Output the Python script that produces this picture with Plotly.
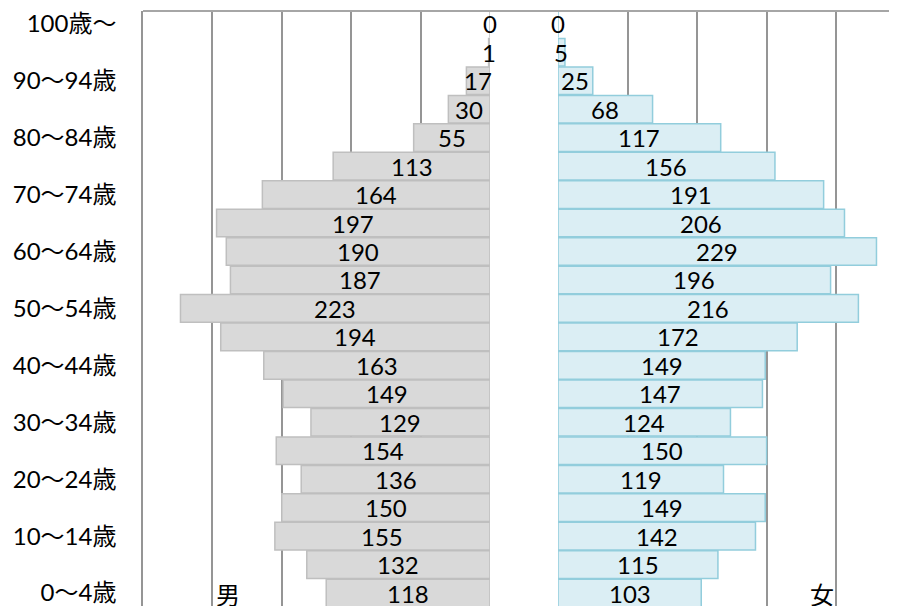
import plotly.graph_objects as go

# Age groups from youngest (bottom) to oldest (top)
categories = ["0～4歳", "5～9歳", "10～14歳", "15～19歳", "20～24歳", "25～29歳",
              "30～34歳", "35～39歳", "40～44歳", "45～49歳", "50～54歳", "55～59歳",
              "60～64歳", "65～69歳", "70～74歳", "75～79歳", "80～84歳", "85～89歳",
              "90～94歳", "95～99歳", "100歳～"]
male = [118, 132, 155, 150, 136, 154, 129, 149, 163, 194, 223, 187, 190, 197, 164,
        113, 55, 30, 17, 1, 0]
female = [103, 115, 142, 149, 119, 150, 124, 147, 149, 172, 216, 196, 229, 206, 191,
          156, 117, 68, 25, 5, 0]
tick_labels = categories[::2]

FONT = "Lato, 'Noto Sans CJK JP', sans-serif"
GRID = "#959595"
BORDER = "#a6a6a6"

# the page body adds an 8px margin; the figure runs past the window's right edge
W, H = 905, 598
L, R, T, B = 135, 0, 1, 0
pw = W - L - R
male_zero_px, female_zero_px = 482, 550
px_per_unit = (male_zero_px - L) / 250.0
male_dom = [0, (male_zero_px - L) / pw]
female_dom = [(female_zero_px - L) / pw, 1]
female_max = (W - female_zero_px) / px_per_unit - 0.5

fig = go.Figure()
fig.add_trace(go.Bar(
    x=male, y=categories, orientation="h", xaxis="x", yaxis="y",
    marker=dict(color="#d9d9d9", line=dict(color="#bfbfbf", width=1.5)),
    hoverinfo="x+y", showlegend=False))
fig.add_trace(go.Bar(
    x=female, y=categories, orientation="h", xaxis="x2", yaxis="y2",
    marker=dict(color="#dbeef4", line=dict(color="#92cddc", width=1.5)),
    hoverinfo="x+y", showlegend=False))

label_font = dict(family=FONT, size=24, color="#000")
annotations = []
for cat, v in zip(categories, male):
    annotations.append(dict(text=str(v), x=v / 2, y=cat, xref="x", yref="y",
                            showarrow=False, yshift=0, font=label_font))
for cat, v in zip(categories, female):
    annotations.append(dict(text=str(v), x=v / 2, y=cat, xref="x2", yref="y2",
                            showarrow=False, yshift=0, font=label_font))
annotations += [
    dict(text="男", x=189, y=categories[0], xref="x", yref="y", showarrow=False,
         font=dict(family="'Noto Sans CJK JP'", size=24, color="#000")),
    dict(text="女", x=190, y=categories[0], xref="x2", yref="y2", showarrow=False,
         font=dict(family="'Noto Sans CJK JP'", size=24, color="#000")),
]

yrange = [-0.455, 20.45]
fig.update_layout(
    width=W, height=H,
    margin=dict(l=L, r=R, t=T, b=B),
    paper_bgcolor="white", plot_bgcolor="white",
    bargap=0.03,
    font=dict(family=FONT, size=24, color="#000"),
    xaxis=dict(domain=male_dom, range=[250, 0], showticklabels=False, ticks="",
               showgrid=True, gridcolor=GRID, gridwidth=1.5, dtick=50, tick0=0,
               zeroline=False, anchor="y", fixedrange=True),
    xaxis2=dict(domain=female_dom, range=[0, female_max], showticklabels=False, ticks="",
                showgrid=True, gridcolor=GRID, gridwidth=1.5, dtick=50, tick0=0,
                zeroline=False, anchor="y2", fixedrange=True),
    yaxis=dict(type="category", categoryorder="array", categoryarray=categories,
               range=yrange, tickmode="array", tickvals=tick_labels, ticktext=tick_labels,
               ticks="", ticklabelstandoff=20, showgrid=False, showline=True,
               linecolor=GRID, linewidth=1.5, anchor="x",
               tickfont=dict(family=FONT, size=24, color="#000"), fixedrange=True),
    yaxis2=dict(type="category", categoryorder="array", categoryarray=categories,
                range=yrange, showticklabels=False, ticks="", showgrid=False,
                anchor="x2", overlaying="y", fixedrange=True),
    shapes=[dict(type="line", xref="paper", yref="paper", x0=0, x1=1, y0=1, y1=1,
                 line=dict(color=BORDER, width=2))],
    annotations=annotations,
)

fig.write_html(
    "out.html",
    post_script="document.documentElement.style.overflow='hidden';"
                "document.body.style.overflow='hidden';",
)
